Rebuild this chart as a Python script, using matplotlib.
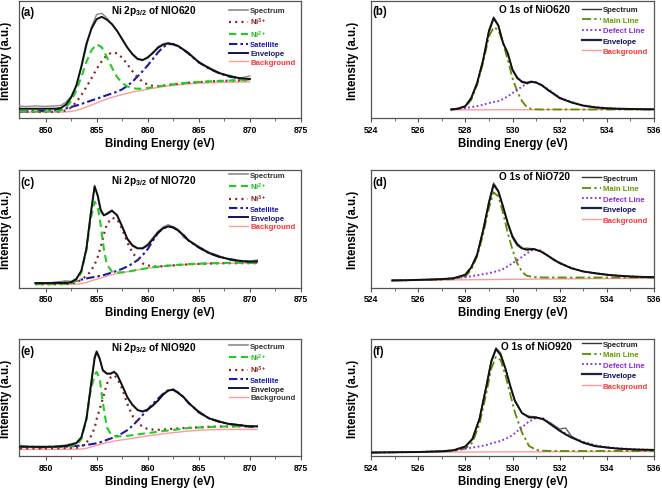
import matplotlib
matplotlib.use("Agg")
import matplotlib.pyplot as plt
from matplotlib.lines import Line2D

plt.rcParams['font.family'] = ['Liberation Sans', 'DejaVu Sans']
plt.rcParams['font.weight'] = 'bold'
plt.rcParams['mathtext.fontset'] = 'custom'
plt.rcParams['mathtext.rm'] = 'Liberation Sans:bold'
plt.rcParams['mathtext.bf'] = 'Liberation Sans:bold'
plt.rcParams['mathtext.it'] = 'Liberation Sans:bold:italic'
plt.rcParams['mathtext.default'] = 'rm'

# ---------------- Panel (a): Ni 2p3/2 of NIO620 ----------------
x_a = [847.5, 848, 849, 850, 851, 851.5, 852, 852.5, 853, 853.5, 854, 854.5, 855, 855.5,
       856, 856.5, 857, 857.5, 858, 858.5, 859, 859.5, 860, 860.5, 861, 861.5, 862, 862.5,
       863, 863.5, 864, 865, 866, 867, 868, 869, 870]
spec_a = [10.2, 9.8, 10.3, 9.9, 10.4, 10.8, 13.5, 18.5, 27.0, 42.5, 61.0, 78.0, 88.5, 89.5,
          85.5, 80.0, 74.0, 67.0, 60.0, 54.0, 50.0, 49.0, 52.5, 55.0, 61.0, 63.5, 64.5, 62.5,
          62.0, 58.0, 56.0, 47.0, 43.5, 38.0, 36.5, 34.0, 36.0]
ni3_a = [5.2, 5.2, 5.2, 5.2, 5.3, 5.6, 6.5, 9.0, 13.5, 19.5, 26.5, 34.0, 42.0, 48.5,
         53.8, 56.0, 55.3, 51.5, 46.0, 40.0, 34.8, 31.0, 28.5, 27.5, 27.3, 27.6, 28.2, 28.7,
         29.2, 29.6, 30.1, 30.7, 31.2, 31.6, 31.9, 32.1, 32.3]
ni2_a = [5.5, 5.5, 5.5, 5.5, 5.8, 6.5, 9.0, 14.5, 23.5, 35.0, 48.0, 58.0, 63.0, 60.5,
         52.0, 43.0, 35.0, 30.0, 27.0, 25.5, 25.0, 25.0, 25.6, 26.3, 27.0, 27.6, 28.3, 28.8,
         29.3, 29.8, 30.2, 30.8, 31.3, 31.7, 32.0, 32.3, 32.6]
sat_a = [5.6, 5.7, 5.9, 6.2, 6.6, 7.2, 8.2, 9.4, 10.6, 12.0, 13.5, 15.0, 16.5, 18.0,
         19.5, 21.0, 22.5, 24.5, 27.5, 31.0, 35.5, 40.0, 45.0, 50.5, 56.0, 60.5, 63.2, 63.0,
         61.2, 58.4, 55.0, 47.6, 42.2, 38.2, 35.4, 33.8, 33.0]
env_a = [7.9, 7.9, 7.9, 7.9, 8.0, 8.6, 11.5, 17.5, 27.5, 44.0, 63.5, 76.5, 84.5, 86.5,
         84.0, 80.2, 74.5, 67.4, 60.3, 54.7, 50.6, 49.6, 51.6, 55.8, 60.0, 62.6, 63.7, 63.2,
         61.3, 58.5, 55.2, 47.8, 42.5, 38.5, 35.7, 34.0, 33.4]
bg_a = [5.0, 5.0, 5.0, 5.0, 5.0, 5.0, 5.2, 5.6, 6.5, 7.8, 9.5, 11.2, 12.8, 14.6,
        16.2, 17.6, 18.9, 20.0, 21.1, 22.1, 23.0, 23.8, 24.6, 25.4, 26.1, 26.8, 27.4, 27.9,
        28.4, 28.8, 29.2, 29.7, 30.1, 30.4, 30.6, 30.7, 30.8]

# ---------------- Panel (c): Ni 2p3/2 of NIO720 ----------------
x_c = [849, 850, 851, 852, 852.5, 853, 853.5, 854, 854.4, 854.8, 855.1, 855.4, 855.7, 856,
       856.5, 857, 857.5, 858, 858.5, 859, 859.5, 860, 860.5, 861, 861.5, 862, 862.5, 863,
       863.5, 864, 865, 866, 867, 868, 869, 870, 870.7]
spec_c = [3.6, 3.9, 4.5, 5.7, 5.2, 7.8, 14.0, 34.0, 63.0, 87.0, 77.0, 64.0, 61.0, 63.5,
          66.0, 61.0, 51.0, 41.0, 35.0, 33.0, 34.0, 37.0, 42.5, 47.5, 51.5, 53.5, 51.5, 49.5,
          42.5, 40.5, 35.0, 30.0, 27.0, 23.5, 21.5, 22.5, 23.5]
ni2_c = [2.8, 2.8, 2.9, 3.0, 3.5, 5.7, 12.8, 32.0, 57.5, 73.0, 69.0, 53.0, 33.0, 19.5,
         13.5, 12.8, 12.9, 13.4, 14.2, 15.0, 15.8, 16.5, 17.2, 17.7, 18.2, 18.6, 19.0, 19.3,
         19.6, 19.9, 20.3, 20.6, 20.8, 21.0, 21.0, 21.0, 21.0]
ni3_c = [2.8, 2.8, 2.8, 2.9, 3.2, 4.3, 6.5, 10.0, 13.5, 19.5, 26.0, 34.5, 45.0, 54.0,
         59.2, 58.2, 49.7, 38.4, 29.8, 24.1, 20.5, 18.8, 18.0, 17.9, 18.1, 18.5, 18.8, 19.1,
         19.4, 19.7, 20.1, 20.4, 20.6, 20.7, 20.7, 20.7, 20.7]
sat_c = [3.7, 3.8, 3.9, 4.2, 4.6, 5.7, 6.7, 7.7, 8.4, 9.0, 9.5, 10.0, 10.6, 11.4,
         12.8, 14.2, 15.9, 17.9, 20.3, 23.3, 27.5, 32.7, 39.8, 46.3, 50.3, 52.0, 51.1, 48.3,
         44.6, 39.8, 34.1, 29.3, 26.1, 24.1, 22.7, 21.9, 21.3]
env_c = [3.7, 3.7, 3.8, 3.9, 4.4, 7.0, 14.2, 33.0, 61.0, 86.0, 78.5, 66.0, 61.5, 62.5,
         65.3, 61.5, 52.0, 41.5, 36.0, 33.4, 33.2, 36.0, 41.2, 46.9, 50.3, 52.0, 51.1, 48.3,
         44.6, 40.0, 34.1, 29.3, 26.1, 24.1, 22.7, 21.9, 22.3]
bg_c = [2.8, 2.8, 2.8, 2.8, 2.8, 2.9, 3.2, 4.3, 5.5, 6.6, 7.3, 8.1, 8.9, 9.7,
        10.9, 11.9, 12.7, 13.4, 14.2, 15.0, 15.8, 16.5, 17.1, 17.6, 18.1, 18.5, 18.8, 19.1,
        19.4, 19.6, 20.1, 20.4, 20.6, 20.7, 20.7, 20.7, 20.7]

# ---------------- Panel (e): Ni 2p3/2 of NIO920 ----------------
x_e = [847.5, 848, 849, 849.5, 850, 851, 852, 853, 853.5, 854, 854.4, 854.8, 855, 855.3,
       855.6, 856, 856.4, 856.7, 857, 857.5, 858, 858.5, 859, 859.5, 860, 860.5, 861, 861.5,
       862, 862.5, 863, 863.5, 864, 865, 866, 867, 868, 869, 870, 870.7]
spec_e = [9.2, 8.5, 8.0, 6.5, 7.5, 8.3, 9.5, 11.5, 16.0, 33.0, 60.0, 86.0, 90.0, 84.0,
          72.5, 70.0, 70.0, 72.5, 70.0, 60.0, 50.5, 44.0, 39.0, 38.5, 40.0, 44.0, 47.0, 53.5,
          55.5, 57.5, 53.0, 51.0, 45.0, 38.5, 32.0, 30.0, 27.0, 26.5, 24.5, 26.0]
ni2_e = [7.8, 7.8, 7.8, 7.8, 7.8, 7.9, 8.2, 9.2, 14.4, 31.6, 55.0, 69.5, 71.8, 66.1,
         46.0, 24.4, 18.5, 17.0, 16.7, 16.8, 17.2, 17.8, 18.4, 19.0, 19.5, 20.1, 20.7, 21.3,
         21.8, 22.3, 22.8, 23.3, 23.9, 24.3, 24.7, 25.0, 25.3, 25.3, 25.3, 25.3]
ni3_e = [6.5, 6.5, 6.5, 6.5, 6.5, 6.6, 6.8, 7.0, 8.0, 11.5, 16.0, 24.0, 31.6, 40.0,
         49.0, 61.8, 67.5, 69.0, 66.7, 57.5, 44.5, 34.5, 28.7, 25.0, 23.0, 22.6, 22.4, 22.6,
         23.0, 23.3, 23.6, 23.9, 24.1, 24.5, 25.0, 25.2, 25.3, 25.3, 25.3, 25.3]
sat_e = [7.8, 7.8, 7.8, 7.8, 7.8, 7.9, 8.0, 8.6, 9.0, 9.5, 10.0, 10.6, 10.9, 11.6,
         12.4, 13.8, 15.0, 16.0, 17.2, 19.4, 22.1, 25.8, 30.2, 35.0, 39.7, 44.5, 48.9, 53.2,
         56.0, 56.6, 54.0, 50.3, 45.4, 37.4, 32.2, 29.3, 27.3, 26.4, 25.3, 25.3]
env_e = [8.0, 7.9, 7.8, 7.8, 7.8, 8.0, 8.6, 10.9, 15.8, 31.6, 57.5, 83.3, 89.0, 83.0,
         73.5, 70.4, 70.6, 71.8, 69.5, 60.3, 50.3, 43.7, 39.4, 37.9, 39.7, 43.1, 47.4, 52.3,
         56.0, 56.6, 54.0, 50.3, 45.4, 37.4, 32.2, 29.3, 27.3, 26.4, 25.3, 25.3]
bg_e = [5.7, 5.7, 5.7, 5.7, 5.7, 5.7, 5.7, 5.8, 6.0, 6.6, 7.6, 8.6, 9.2, 9.9,
        10.6, 11.5, 12.2, 12.7, 13.2, 13.8, 14.4, 15.1, 15.8, 16.5, 17.2, 17.8, 18.4, 19.0,
        19.5, 20.0, 20.4, 20.9, 21.3, 22.0, 22.4, 22.6, 22.7, 22.7, 22.7, 22.7]

# ---------------- Panel (b): O 1s of NiO620 ----------------
x_b = [527.4, 527.7, 528, 528.25, 528.5, 528.75, 529, 529.2, 529.4, 529.6, 529.8, 530, 530.2,
       530.4, 530.6, 530.8, 531, 531.25, 531.5, 531.75, 532, 532.5, 533, 533.5, 534, 534.5,
       535, 535.5, 536]
spec_b = [7.6, 8.3, 10.5, 17.5, 30.5, 50.0, 75.5, 86.5, 79.5, 64.5, 54.5, 41.0, 33.5,
          31.5, 30.5, 31.5, 30.0, 28.5, 23.5, 21.0, 17.5, 13.0, 10.8, 9.0, 8.6, 7.8,
          7.8, 7.4, 7.6]
main_b = [7.1, 7.8, 9.4, 15.5, 28.4, 47.0, 69.6, 77.6, 75.3, 63.9, 49.7, 34.1, 22.7,
          14.5, 9.5, 7.7, 7.4, 7.3, 7.3, 7.3, 7.3, 7.3, 7.3, 7.3, 7.3, 7.3,
          7.3, 7.3, 7.3]
defect_b = [7.1, 7.8, 8.5, 9.3, 10.2, 11.3, 12.8, 13.6, 14.5, 16.2, 18.5, 21.3, 24.0,
            26.8, 29.2, 31.0, 30.5, 28.0, 24.7, 21.0, 17.6, 13.6, 10.8, 9.4, 8.5, 8.0,
            7.7, 7.5, 7.4]
env_b = [7.3, 8.0, 10.0, 17.0, 29.8, 49.0, 73.9, 85.2, 79.0, 64.0, 55.4, 41.2, 34.5,
         30.8, 29.8, 30.8, 30.4, 27.8, 24.1, 20.5, 17.0, 13.4, 10.5, 9.1, 8.2, 7.9,
         7.7, 7.5, 7.4]
bg_b = [7.0, 7.0, 7.0, 7.0, 7.0, 7.0, 7.0, 7.0, 7.1, 7.1, 7.1, 7.1, 7.1,
        7.1, 7.1, 7.1, 7.1, 7.1, 7.2, 7.2, 7.2, 7.2, 7.2, 7.2, 7.3, 7.3,
        7.3, 7.3, 7.3]

# ---------------- Panel (d): O 1s of NiO720 ----------------
x_d = [524.9, 525.5, 526, 526.5, 527, 527.5, 528, 528.25, 528.5, 528.75, 529, 529.2, 529.4,
       529.6, 529.8, 530, 530.2, 530.4, 530.6, 530.9, 531.2, 531.5, 531.75, 532, 532.5, 533,
       533.5, 534, 534.5, 535, 535.5, 536]
spec_d = [6.2, 6.0, 6.6, 6.6, 7.3, 7.8, 11.2, 17.5, 28.5, 49.5, 73.5, 89.0, 82.5,
          68.0, 54.0, 42.0, 35.5, 33.0, 33.5, 33.0, 30.5, 27.5, 23.0, 21.5, 16.0, 13.8,
          11.8, 11.2, 9.8, 9.4, 9.2, 8.6]
main_d = [6.0, 6.2, 6.4, 6.6, 6.8, 7.1, 9.4, 15.0, 26.4, 45.0, 67.6, 81.0, 77.6,
          63.4, 46.3, 32.1, 20.7, 13.5, 10.0, 8.8, 8.6, 8.5, 8.5, 8.5, 8.5, 8.5,
          8.5, 8.5, 8.5, 8.5, 8.5, 8.5]
defect_d = [6.0, 6.2, 6.4, 6.7, 7.1, 7.9, 8.8, 9.6, 10.4, 11.3, 12.2, 13.1, 14.2,
            15.8, 18.0, 20.7, 23.3, 26.0, 29.0, 32.5, 31.5, 27.0, 23.8, 20.7, 16.5, 13.6,
            12.2, 10.8, 10.0, 9.4, 9.0, 8.8]
env_d = [6.0, 6.2, 6.5, 6.8, 7.1, 7.9, 10.8, 17.0, 27.8, 48.0, 71.9, 87.5, 81.8,
         69.0, 54.8, 43.5, 37.0, 33.5, 32.1, 32.7, 30.7, 27.0, 23.8, 20.7, 16.5, 13.6,
         12.2, 10.8, 10.0, 9.4, 9.0, 8.8]
bg_d = [6.0, 6.1, 6.2, 6.3, 6.4, 6.5, 6.6, 6.6, 6.7, 6.7, 6.8, 6.8, 6.8,
        6.9, 6.9, 7.0, 7.0, 7.0, 7.1, 7.1, 7.2, 7.2, 7.3, 7.3, 7.4, 7.5,
        7.6, 7.6, 7.7, 7.7, 7.8, 7.8]

# ---------------- Panel (f): O 1s of NiO920 ----------------
x_f = [524, 525, 526, 527, 527.5, 528, 528.3, 528.6, 528.9, 529.1, 529.3, 529.5, 529.7,
       529.9, 530.1, 530.4, 530.7, 531, 531.3, 531.6, 532, 532.25, 532.5, 533, 533.5, 534,
       534.5, 535, 535.5, 536]
spec_f = [3.0, 3.0, 3.6, 4.2, 5.0, 8.5, 15.0, 32.5, 61.5, 82.0, 92.5, 88.0, 75.0,
          60.0, 46.5, 36.5, 34.0, 33.5, 31.0, 28.5, 23.0, 24.0, 17.0, 11.0, 8.0, 7.5,
          6.0, 5.8, 5.0, 5.4]
main_f = [2.9, 3.2, 3.4, 3.8, 4.2, 6.3, 11.5, 27.3, 54.6, 74.7, 84.8, 81.9, 69.0,
          53.2, 37.4, 20.1, 8.6, 5.2, 4.5, 4.3, 4.3, 4.3, 4.3, 4.3, 4.3, 4.3,
          4.3, 4.3, 4.3, 4.3]
defect_f = [2.9, 3.2, 3.4, 4.0, 4.9, 6.3, 7.2, 8.2, 9.4, 10.7, 11.8, 12.9, 14.6,
            16.6, 19.5, 24.5, 29.5, 32.5, 32.2, 27.9, 22.1, 19.2, 16.4, 12.1, 9.2, 7.5,
            6.6, 6.0, 5.5, 5.2]
env_f = [2.9, 3.2, 3.4, 4.0, 4.9, 8.0, 14.4, 31.6, 60.3, 80.5, 91.4, 86.2, 74.7,
         60.3, 47.4, 36.8, 33.0, 32.8, 31.6, 27.3, 21.6, 18.5, 15.8, 11.5, 8.6, 7.2,
         6.3, 5.7, 5.4, 5.2]
bg_f = [3.2, 3.2, 3.3, 3.3, 3.4, 3.4, 3.4, 3.4, 3.5, 3.5, 3.5, 3.5, 3.5,
        3.5, 3.6, 3.6, 3.6, 3.6, 3.6, 3.7, 3.7, 3.7, 3.7, 3.7, 3.8, 3.8,
        3.8, 3.8, 3.8, 3.8]

ni_xticks = [850, 855, 860, 865, 870, 875]
o_xticks = [524, 526, 528, 530, 532, 534, 536]

C_SPEC = '#8a8a8a'
C_ENV = '#111111'
C_NI2 = '#22cc22'
C_NI3 = '#8b2323'
C_SAT = '#1a1aa8'
C_BG = '#ff9a9a'
C_MAIN = '#5c8a00'
C_DEF = '#9030e0'

W, H = 662, 489
fig = plt.figure(figsize=(W / 100, H / 100), dpi=100)


def add_ax(left_px, top_px, width_px, height_px):
    return fig.add_axes([left_px / W, 1 - (top_px + height_px) / H, width_px / W, height_px / H])


def style_ax(ax, xlim, ticks, minor_step, ylab_x):
    ax.set_xlim(*xlim)
    ax.set_ylim(0, 100)
    ax.set_xticks(ticks)
    ax.set_xticks([t + minor_step for t in ticks[:-1]], minor=True)
    ax.set_yticks([])
    ax.tick_params(axis='x', which='major', direction='out', length=3, width=0.8,
                   color='#555555', labelsize=6.2, pad=2.0)
    ax.tick_params(axis='x', which='minor', direction='out', length=2, width=0.6,
                   color='#555555')
    for lab in ax.get_xticklabels():
        lab.set_fontweight('bold')
    for s in ax.spines.values():
        s.set_color('#555555')
        s.set_linewidth(0.9)
    ax.set_xlabel('Binding Energy (eV)', fontsize=8.3, fontweight='bold')
    ax.xaxis.set_label_coords(0.5, -0.16)
    ax.set_ylabel('Intensity (a.u.)', fontsize=8.3, fontweight='bold')
    ax.yaxis.set_label_coords(ylab_x, 0.5)


def ni_panel(ax, x, spec, ni2, ni3, sat, env, bg, letter, title, lab_dy, tit_dy, leg_dy,
             order, env_lab_color, bg_lab_color):
    style_ax(ax, (847.4, 875), ni_xticks, 2.5, -0.026)
    ax.plot(x, bg, color=C_BG, lw=1.0, zorder=2)
    ax.plot(x, spec, color=C_SPEC, lw=1.0, zorder=3)
    ax.plot(x, sat, color=C_SAT, lw=1.5, dashes=(4, 1.5, 1.2, 1.5), zorder=4)
    ax.plot(x, ni3, color=C_NI3, lw=1.6, dashes=(0.9, 1.9), zorder=4)
    ax.plot(x, ni2, color=C_NI2, lw=1.5, dashes=(3.5, 2.2), zorder=4)
    ax.plot(x, env, color=C_ENV, lw=1.4, zorder=5)
    h = {
        'spec': (Line2D([], [], color=C_SPEC, lw=1.2), 'Spectrum', '#333333'),
        'ni3': (Line2D([], [], color=C_NI3, lw=1.6, dashes=(0.9, 1.9)), r'Ni$^{3+}$', C_NI3),
        'ni2': (Line2D([], [], color=C_NI2, lw=1.5, dashes=(3.5, 2.2)), r'Ni$^{2+}$', '#22bb22'),
        'sat': (Line2D([], [], color=C_SAT, lw=1.5, dashes=(4, 1.5, 1.2, 1.5)), 'Satellite', C_SAT),
        'env': (Line2D([], [], color='#101060', lw=1.4), 'Envelope', env_lab_color),
        'bg': (Line2D([], [], color=C_BG, lw=1.0), 'Background', bg_lab_color),
    }
    hs = [h[k][0] for k in order]
    ls = [h[k][1] for k in order]
    cs = [h[k][2] for k in order]
    ax.legend(hs, ls, loc='upper left', bbox_to_anchor=(0.745, 1 - leg_dy / 117.0),
              frameon=False, prop={'weight': 'bold', 'size': 5.6}, handlelength=2.4,
              handletextpad=0.3, labelspacing=0.17, borderpad=0, borderaxespad=0,
              labelcolor=cs)
    ax.text(0.006, 1 - lab_dy / 117.0, letter, transform=ax.transAxes, fontsize=8.3,
            fontweight='bold', ha='left', va='center')
    ax.text(0.477, 1 - tit_dy / 117.0, title, transform=ax.transAxes, fontsize=7.2,
            fontweight='bold', ha='center', va='center')


def o_panel(ax, x, spec, main, defect, env, bg, letter, title, lab_dy, tit_dy, tit_x, leg_dy):
    style_ax(ax, (524, 536), o_xticks, 1, -0.042)
    ax.plot(x, bg, color=C_BG, lw=1.0, zorder=2)
    ax.plot(x, spec, color='#555555', lw=0.9, zorder=3)
    ax.plot(x, main, color=C_MAIN, lw=1.3, dashes=(5, 1.8, 1.3, 1.8), zorder=4)
    ax.plot(x, defect, color=C_DEF, lw=1.4, dashes=(0.9, 1.3), zorder=4)
    ax.plot(x, env, color=C_ENV, lw=1.4, zorder=5)
    hs = [Line2D([], [], color='#333333', lw=1.0),
          Line2D([], [], color=C_MAIN, lw=1.3, dashes=(5, 1.8, 1.3, 1.8)),
          Line2D([], [], color=C_DEF, lw=1.4, dashes=(0.9, 1.3)),
          Line2D([], [], color='#202040', lw=1.6),
          Line2D([], [], color=C_BG, lw=1.0)]
    ls = ['Spectrum', 'Main Line', 'Defect Line', 'Envelope', 'Background']
    cs = ['#222222', '#669900', '#8a2be2', '#101060', '#ff3333']
    ax.legend(hs, ls, loc='upper left', bbox_to_anchor=(0.745, 1 - leg_dy / 117.0),
              frameon=False, prop={'weight': 'bold', 'size': 5.6}, handlelength=2.4,
              handletextpad=0.3, labelspacing=0.38, borderpad=0, borderaxespad=0,
              labelcolor=cs)
    ax.text(0.006, 1 - lab_dy / 117.0, letter, transform=ax.transAxes, fontsize=8.3,
            fontweight='bold', ha='left', va='center')
    ax.text(tit_x, 1 - tit_dy / 117.0, title, transform=ax.transAxes, fontsize=7.2,
            fontweight='bold', ha='center', va='center')


ax_a = add_ax(19, 2, 282, 117)
ax_b = add_ax(371, 2, 283, 117)
ax_c = add_ax(19, 171, 282, 117.5)
ax_d = add_ax(371, 171, 283, 117.5)
ax_e = add_ax(19, 340, 282, 117)
ax_f = add_ax(371, 340, 283, 117)

ni_panel(ax_a, x_a, spec_a, ni2_a, ni3_a, sat_a, env_a, bg_a, '(a)',
         r'Ni 2p$_{3/2}$ of NIO620', 10.7, 9.0, 6.0,
         ['spec', 'ni3', 'ni2', 'sat', 'env', 'bg'], '#1a1a6a', '#ff3030')
ni_panel(ax_c, x_c, spec_c, ni2_c, ni3_c, sat_c, env_c, bg_c, '(c)',
         r'Ni 2p$_{3/2}$ of NIO720', 11.7, 9.7, 1.5,
         ['spec', 'ni2', 'ni3', 'sat', 'env', 'bg'], '#1a1a6a', '#ff3030')
ni_panel(ax_e, x_e, spec_e, ni2_e, ni3_e, sat_e, env_e, bg_e, '(e)',
         r'Ni 2p$_{3/2}$ of NIO920', 11.7, 8.3, 3.5,
         ['spec', 'ni2', 'ni3', 'sat', 'env', 'bg'], '#222222', '#333333')

o_panel(ax_b, x_b, spec_b, main_b, defect_b, env_b, bg_b, '(b)', 'O 1s of NiO620',
        10.2, 8.5, 0.576, 5.0)
o_panel(ax_d, x_d, spec_d, main_d, defect_d, env_d, bg_d, '(d)', 'O 1s of NiO720',
        11.7, 6.3, 0.576, 4.5)
o_panel(ax_f, x_f, spec_f, main_f, defect_f, env_f, bg_f, '(f)', 'O 1s of NiO920',
        11.7, 6.7, 0.585, 1.5)

fig.savefig('out.png', dpi=100)
